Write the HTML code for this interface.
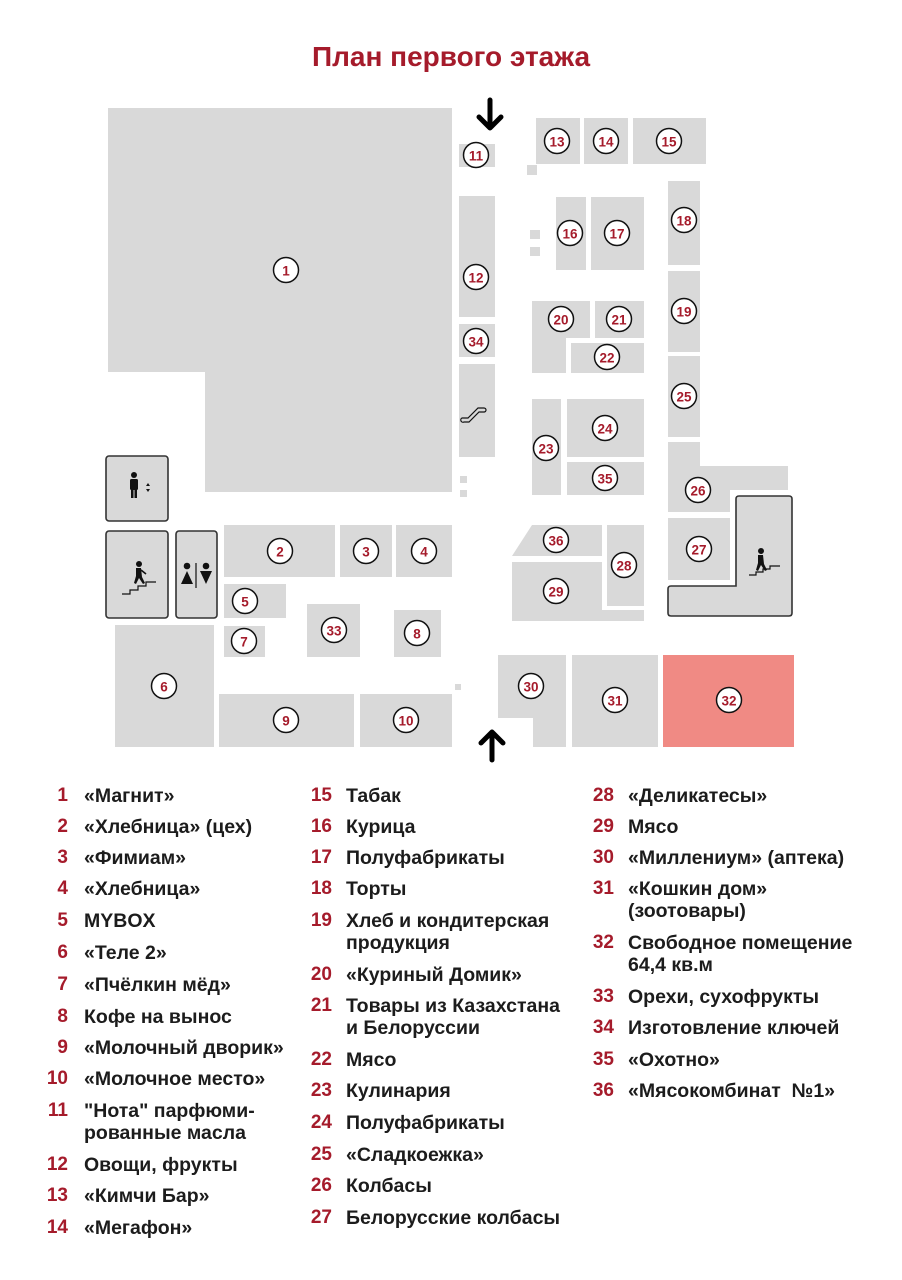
<!DOCTYPE html>
<html><head><meta charset="utf-8"><style>
body{margin:0;width:902px;height:1280px;background:#fff;position:relative;overflow:hidden;font-family:"Liberation Sans",sans-serif}
svg{position:absolute;left:0;top:0}
.t{position:absolute;font-size:19.5px;font-weight:bold;color:#1c1c1c;line-height:22px;white-space:nowrap}
.n{position:absolute;font-size:19px;font-weight:bold;color:#a51b2b;line-height:22px;text-align:right;width:40px}
</style></head><body>
<svg width="902" height="780" viewBox="0 0 902 780">
<g fill="#d9d9d9">
<polygon points="108,108 452,108 452,492 205,492 205,372 108,372"/>
<rect x="224" y="525" width="111" height="52"/><rect x="340" y="525" width="52" height="52"/><rect x="396" y="525" width="56" height="52"/>
<rect x="224" y="584" width="62" height="34"/><rect x="224" y="626" width="41" height="31"/>
<rect x="307" y="604" width="53" height="53"/><rect x="394" y="610" width="47" height="47"/>
<rect x="115" y="625" width="99" height="122"/><rect x="219" y="694" width="135" height="53"/><rect x="360" y="694" width="92" height="53"/>
<rect x="455" y="684" width="6" height="6"/>
<rect x="459" y="144" width="36" height="23"/><rect x="459" y="196" width="36" height="121"/><rect x="459" y="324" width="36" height="33"/><rect x="459" y="364" width="36" height="93"/>
<rect x="460" y="476" width="7" height="7"/><rect x="460" y="490" width="7" height="7"/>
<rect x="536" y="118" width="44" height="46"/><rect x="584" y="118" width="44" height="46"/><rect x="633" y="118" width="73" height="46"/>
<rect x="527" y="165" width="10" height="10"/><rect x="530" y="230" width="10" height="9"/><rect x="530" y="247" width="10" height="9"/>
<rect x="556" y="197" width="30" height="73"/><rect x="591" y="197" width="53" height="73"/>
<rect x="668" y="181" width="32" height="84"/><rect x="668" y="271" width="32" height="81"/><rect x="668" y="356" width="32" height="81"/>
<polygon points="532,301 590,301 590,338 566,338 566,373 532,373"/>
<rect x="595" y="301" width="49" height="37"/><rect x="571" y="343" width="73" height="30"/>
<rect x="532" y="399" width="29" height="96"/><rect x="567" y="399" width="77" height="58"/><rect x="567" y="462" width="77" height="33"/>
<polygon points="668,442 700,442 700,466 788,466 788,490 730,490 730,512 668,512"/>
<rect x="668" y="518" width="62" height="62"/>
<polygon points="532,525 602,525 602,556 512,556"/>
<rect x="607" y="525" width="37" height="81"/>
<polygon points="512,562 602,562 602,610 644,610 644,621 512,621"/>
<polygon points="498,655 566,655 566,747 533,747 533,718 498,718"/>
<rect x="572" y="655" width="86" height="92"/>
</g>
<rect x="663" y="655" width="131" height="92" fill="#f08a84"/>
<g fill="#d9d9d9" stroke="#333" stroke-width="1.6">
<rect x="106" y="456" width="62" height="65" rx="3"/>
<rect x="106" y="531" width="62" height="87" rx="3"/>
<rect x="176" y="531" width="41" height="87" rx="3"/>
<path d="M739,496 H789 Q792,496 792,499 V613 Q792,616 789,616 H671 Q668,616 668,613 V589 Q668,586 671,586 H736 V499 Q736,496 739,496 Z"/>
</g>
<g fill="#111">
<circle cx="134" cy="475" r="3"/><rect x="130" y="479" width="8" height="11" rx="1.5"/><rect x="131" y="489" width="2.5" height="9"/><rect x="134.5" y="489" width="2.5" height="9"/>
<polygon points="148,483 146,486 150,486"/><polygon points="148,492 146,489 150,489"/>
<circle cx="139" cy="564" r="3"/><path d="M136,568 L141,568 L142,577 L145,583 L143,584 L139,578 L136,584 L134,583 L136,576 Z"/><path d="M141,570 L146,574" stroke="#111" stroke-width="1.6"/>
<circle cx="187" cy="566" r="3.3"/><polygon points="187,571 181,584 193,584"/>
<circle cx="206" cy="566" r="3.3"/><polygon points="200,571 212,571 206,584"/>
<circle cx="761" cy="551" r="3"/><path d="M758,555 L763,555 L764,564 L767,570 L765,571 L761,565 L758,571 L756,570 L758,563 Z"/>
</g>
<g fill="none" stroke="#111" stroke-width="1.2">
<path d="M122,594 h8 v-4 h8 v-4 h8 v-4 h10"/>
<line x1="196" y1="563" x2="196" y2="588"/>
<path d="M749,575 h7 v-3 h7 v-3 h7 v-3 h10"/>
<path d="M462,418 a2,2 0 0 0 2,4 h5 l10,-10 h5 a2,2 0 0 0 0,-4 h-6 l-10,10 h-4 z"/>
</g>
<g stroke="#000" stroke-width="5" fill="none" stroke-linecap="round" stroke-linejoin="round">
<path d="M490,100 V127 M479,117 L490,128 L501,117"/>
<path d="M492,760 V733 M481,743 L492,732 L503,743"/>
</g>
<text x="451" y="66" text-anchor="middle" font-family="Liberation Sans,sans-serif" font-weight="bold" font-size="28" fill="#a51b2b">План первого этажа</text>
<g stroke="#111" stroke-width="1.5" fill="#fff">
<circle cx="286" cy="270" r="12.5"/><circle cx="280" cy="551" r="12.5"/><circle cx="366" cy="551" r="12.5"/><circle cx="424" cy="551" r="12.5"/><circle cx="245" cy="601" r="12.5"/><circle cx="164" cy="686" r="12.5"/><circle cx="244" cy="641" r="12.5"/><circle cx="334" cy="630" r="12.5"/><circle cx="417" cy="633" r="12.5"/><circle cx="286" cy="720" r="12.5"/><circle cx="406" cy="720" r="12.5"/><circle cx="476" cy="155" r="12.5"/><circle cx="476" cy="277" r="12.5"/><circle cx="476" cy="341" r="12.5"/><circle cx="557" cy="141" r="12.5"/><circle cx="606" cy="141" r="12.5"/><circle cx="669" cy="141" r="12.5"/><circle cx="570" cy="233" r="12.5"/><circle cx="617" cy="233" r="12.5"/><circle cx="684" cy="220" r="12.5"/><circle cx="684" cy="311" r="12.5"/><circle cx="684" cy="396" r="12.5"/><circle cx="561" cy="319" r="12.5"/><circle cx="619" cy="319" r="12.5"/><circle cx="607" cy="357" r="12.5"/><circle cx="605" cy="428" r="12.5"/><circle cx="546" cy="448" r="12.5"/><circle cx="605" cy="478" r="12.5"/><circle cx="698" cy="490" r="12.5"/><circle cx="699" cy="549" r="12.5"/><circle cx="624" cy="565" r="12.5"/><circle cx="556" cy="540" r="12.5"/><circle cx="556" cy="591" r="12.5"/><circle cx="531" cy="686" r="12.5"/><circle cx="615" cy="700" r="12.5"/><circle cx="729" cy="700" r="12.5"/>
</g>
<g font-family="Liberation Sans,sans-serif" font-weight="bold" font-size="13.5" fill="#a51b2b" text-anchor="middle" dominant-baseline="central">
<text x="286" y="271">1</text><text x="280" y="552">2</text><text x="366" y="552">3</text><text x="424" y="552">4</text><text x="245" y="602">5</text><text x="164" y="687">6</text><text x="244" y="642">7</text><text x="334" y="631">33</text><text x="417" y="634">8</text><text x="286" y="721">9</text><text x="406" y="721">10</text><text x="476" y="156">11</text><text x="476" y="278">12</text><text x="476" y="342">34</text><text x="557" y="142">13</text><text x="606" y="142">14</text><text x="669" y="142">15</text><text x="570" y="234">16</text><text x="617" y="234">17</text><text x="684" y="221">18</text><text x="684" y="312">19</text><text x="684" y="397">25</text><text x="561" y="320">20</text><text x="619" y="320">21</text><text x="607" y="358">22</text><text x="605" y="429">24</text><text x="546" y="449">23</text><text x="605" y="479">35</text><text x="698" y="491">26</text><text x="699" y="550">27</text><text x="624" y="566">28</text><text x="556" y="541">36</text><text x="556" y="592">29</text><text x="531" y="687">30</text><text x="615" y="701">31</text><text x="729" y="701">32</text>
</g>
</svg>

<div class="n" style="left:28px;top:785px">1</div><div class="t" style="left:84px;top:785px">«Магнит»</div>
<div class="n" style="left:28px;top:816px">2</div><div class="t" style="left:84px;top:816px">«Хлебница» (цех)</div>
<div class="n" style="left:28px;top:847px">3</div><div class="t" style="left:84px;top:847px">«Фимиам»</div>
<div class="n" style="left:28px;top:878px">4</div><div class="t" style="left:84px;top:878px">«Хлебница»</div>
<div class="n" style="left:28px;top:910px">5</div><div class="t" style="left:84px;top:910px">MYBOX</div>
<div class="n" style="left:28px;top:942px">6</div><div class="t" style="left:84px;top:942px">«Теле 2»</div>
<div class="n" style="left:28px;top:974px">7</div><div class="t" style="left:84px;top:974px">«Пчёлкин мёд»</div>
<div class="n" style="left:28px;top:1006px">8</div><div class="t" style="left:84px;top:1006px">Кофе на вынос</div>
<div class="n" style="left:28px;top:1037px">9</div><div class="t" style="left:84px;top:1037px">«Молочный дворик»</div>
<div class="n" style="left:28px;top:1068px">10</div><div class="t" style="left:84px;top:1068px">«Молочное место»</div>
<div class="n" style="left:28px;top:1100px">11</div><div class="t" style="left:84px;top:1100px">"Нота" парфюми-<br>рованные масла</div>
<div class="n" style="left:28px;top:1154px">12</div><div class="t" style="left:84px;top:1154px">Овощи, фрукты</div>
<div class="n" style="left:28px;top:1185px">13</div><div class="t" style="left:84px;top:1185px">«Кимчи Бар»</div>
<div class="n" style="left:28px;top:1217px">14</div><div class="t" style="left:84px;top:1217px">«Мегафон»</div>

<div class="n" style="left:292px;top:785px">15</div><div class="t" style="left:346px;top:785px">Табак</div>
<div class="n" style="left:292px;top:816px">16</div><div class="t" style="left:346px;top:816px">Курица</div>
<div class="n" style="left:292px;top:847px">17</div><div class="t" style="left:346px;top:847px">Полуфабрикаты</div>
<div class="n" style="left:292px;top:878px">18</div><div class="t" style="left:346px;top:878px">Торты</div>
<div class="n" style="left:292px;top:910px">19</div><div class="t" style="left:346px;top:910px">Хлеб и кондитерская<br>продукция</div>
<div class="n" style="left:292px;top:964px">20</div><div class="t" style="left:346px;top:964px">«Куриный Домик»</div>
<div class="n" style="left:292px;top:995px">21</div><div class="t" style="left:346px;top:995px">Товары из Казахстана<br>и Белоруссии</div>
<div class="n" style="left:292px;top:1049px">22</div><div class="t" style="left:346px;top:1049px">Мясо</div>
<div class="n" style="left:292px;top:1080px">23</div><div class="t" style="left:346px;top:1080px">Кулинария</div>
<div class="n" style="left:292px;top:1112px">24</div><div class="t" style="left:346px;top:1112px">Полуфабрикаты</div>
<div class="n" style="left:292px;top:1144px">25</div><div class="t" style="left:346px;top:1144px">«Сладкоежка»</div>
<div class="n" style="left:292px;top:1175px">26</div><div class="t" style="left:346px;top:1175px">Колбасы</div>
<div class="n" style="left:292px;top:1207px">27</div><div class="t" style="left:346px;top:1207px">Белорусские колбасы</div>

<div class="n" style="left:574px;top:785px">28</div><div class="t" style="left:628px;top:785px">«Деликатесы»</div>
<div class="n" style="left:574px;top:816px">29</div><div class="t" style="left:628px;top:816px">Мясо</div>
<div class="n" style="left:574px;top:847px">30</div><div class="t" style="left:628px;top:847px">«Миллениум» (аптека)</div>
<div class="n" style="left:574px;top:878px">31</div><div class="t" style="left:628px;top:878px">«Кошкин дом»<br>(зоотовары)</div>
<div class="n" style="left:574px;top:932px">32</div><div class="t" style="left:628px;top:932px">Свободное помещение<br>64,4 кв.м</div>
<div class="n" style="left:574px;top:986px">33</div><div class="t" style="left:628px;top:986px">Орехи, сухофрукты</div>
<div class="n" style="left:574px;top:1017px">34</div><div class="t" style="left:628px;top:1017px">Изготовление ключей</div>
<div class="n" style="left:574px;top:1049px">35</div><div class="t" style="left:628px;top:1049px">«Охотно»</div>
<div class="n" style="left:574px;top:1080px">36</div><div class="t" style="left:628px;top:1080px">«Мясокомбинат&nbsp; №1»</div>
</body></html>
